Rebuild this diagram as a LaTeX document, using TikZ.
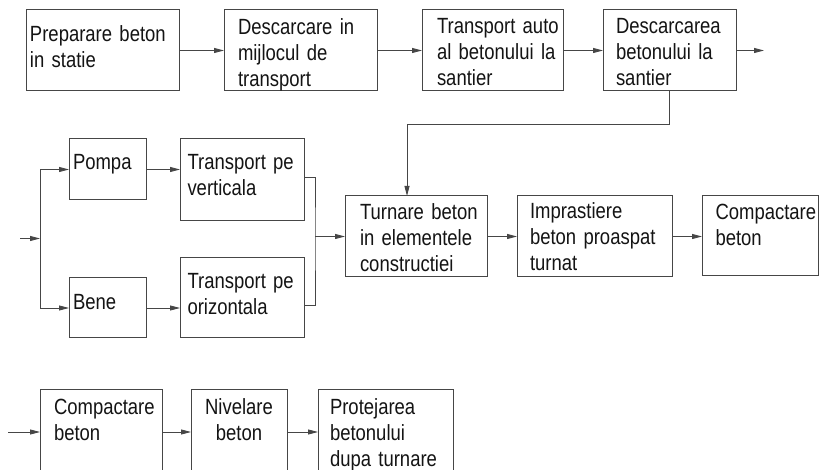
\documentclass[tikz,border=0pt]{standalone}
\usepackage{fontspec}
\setmainfont{Liberation Sans}[FakeStretch=0.84]
\usetikzlibrary{arrows.meta}
\hyphenpenalty=10000
\exhyphenpenalty=10000
\newcommand\bxt[2]{\hspace*{#1pt}\begin{tabular}[t]{@{}l@{}}#2\end{tabular}}
\definecolor{linec}{RGB}{70,70,70}
\definecolor{txtc}{RGB}{20,20,20}
\begin{document}
\begin{tikzpicture}[x=1pt, y=-1pt, font=\fontsize{22}{26}\selectfont,
  box/.style={draw=linec, line width=1pt, anchor=north west, inner sep=0pt, outer sep=0pt, text=txtc},
  conn/.style={draw=linec, line width=0.9pt},
  arr/.style={conn, -{Triangle[length=10pt,width=5pt]}}]
\useasboundingbox (0,0) rectangle (820,470);
\fill[white] (0,0) rectangle (820,470);
\clip (0,0) rectangle (820,470);
% row 1
\node[box, minimum width=153pt, text width=153pt, minimum height=81pt, text height=31.7pt, text depth=49.3pt] (A) at (26,10) {\bxt{4}{Preparare beton\\in statie}};
\node[box, minimum width=153pt, text width=153pt, minimum height=81pt, text height=24.3pt, text depth=56.7pt] (B) at (224,10) {\bxt{14}{Descarcare in\\mijlocul de\\transport}};
\node[box, minimum width=141pt, text width=141pt, minimum height=81pt, text height=24pt, text depth=57pt] (C) at (422,10) {\bxt{15}{Transport auto\\al betonului la\\santier}};
\node[box, minimum width=133pt, text width=133pt, minimum height=81pt, text height=24pt, text depth=57pt] (D) at (603,10) {\bxt{13}{Descarcarea\\betonului la\\santier}};
\coordinate (out1) at (764,50.5);
\coordinate (fb) at (407,124);
% row 2
\node[box, minimum width=77pt, text width=77pt, minimum height=61pt, text height=31pt, text depth=30pt] (P) at (69,139) {\bxt{4}{Pompa}};
\node[box, minimum width=124pt, text width=124pt, minimum height=82pt, text height=31pt, text depth=51pt] (TV) at (180,139) {\bxt{7.5}{Transport pe\\verticala}};
\node[box, minimum width=77pt, text width=77pt, minimum height=60pt, text height=32pt, text depth=28pt] (Bn) at (69,278) {\bxt{4}{Bene}};
\node[box, minimum width=124pt, text width=124pt, minimum height=80pt, text height=31pt, text depth=49pt] (TO) at (180,258) {\bxt{7.5}{Transport pe\\orizontala}};
\coordinate (in2) at (20,238.5);
\coordinate (br) at (40,238.5);
\coordinate (mg) at (315,236.5);
\node[box, minimum width=142pt, text width=142pt, minimum height=81pt, text height=23.3pt, text depth=57.7pt] (T) at (345,196) {\bxt{15}{Turnare beton\\in elementele\\constructiei}};
\node[box, minimum width=155pt, text width=155pt, minimum height=81pt, text height=22.6pt, text depth=58.4pt] (I) at (517,196) {\bxt{13}{Imprastiere\\beton proaspat\\turnat}};
\node[box, minimum width=116pt, text width=116pt, minimum height=80pt, text height=23.3pt, text depth=56.7pt] (C1) at (702,196) {\bxt{13.5}{Compactare\\beton}};
% row 3
\coordinate (in3) at (8,432);
\node[box, minimum width=122pt, text width=122pt, minimum height=90pt, text height=25pt, text depth=65pt] (C2) at (40,390) {\bxt{14}{Compactare\\beton}};
\node[box, align=center, minimum width=96pt, text width=96pt, minimum height=90pt, text height=24.3pt, text depth=65.7pt] (N) at (191,390) {Nivelare\\beton};
\node[box, minimum width=135pt, text width=135pt, minimum height=90pt, text height=24.3pt, text depth=65.7pt] (Pr) at (318,390) {\bxt{12}{Protejarea\\betonului\\dupa turnare}};
% connectors row 1
\draw[arr] (A) -- (B);
\draw[arr] (B) -- (C);
\draw[arr] (C) -- (D);
\draw[arr] (D) -- (out1);
\draw[arr] (D.south) |- (fb) -- (fb |- T.north);
% connectors row 2
\draw[arr] (in2) -- (br);
\draw[conn] (br |- P) -- (br |- Bn);
\draw[arr] (br |- P) -- (P);
\draw[arr] (br |- Bn) -- (Bn);
\draw[arr] (P) -- (P -| TV.west);
\draw[arr] (Bn) -- (Bn -| TO.west);
\draw[conn] ([yshift=3pt]TV.east) -| (mg) |- ([yshift=-7pt]TO.east);
\draw[arr] (mg) -- (mg -| T.west);
\draw[arr] (T) -- (I);
\draw[arr] (I) -- (I -| C1.west);
% connectors row 3
\draw[arr] (in3) -- (in3 -| C2.west);
\draw[arr] ([yshift=3pt]C2.east) -- ([yshift=3pt]C2.east -| N.west);
\draw[arr] ([yshift=3pt]N.east) -- ([yshift=3pt]N.east -| Pr.west);
\end{tikzpicture}
\end{document}
